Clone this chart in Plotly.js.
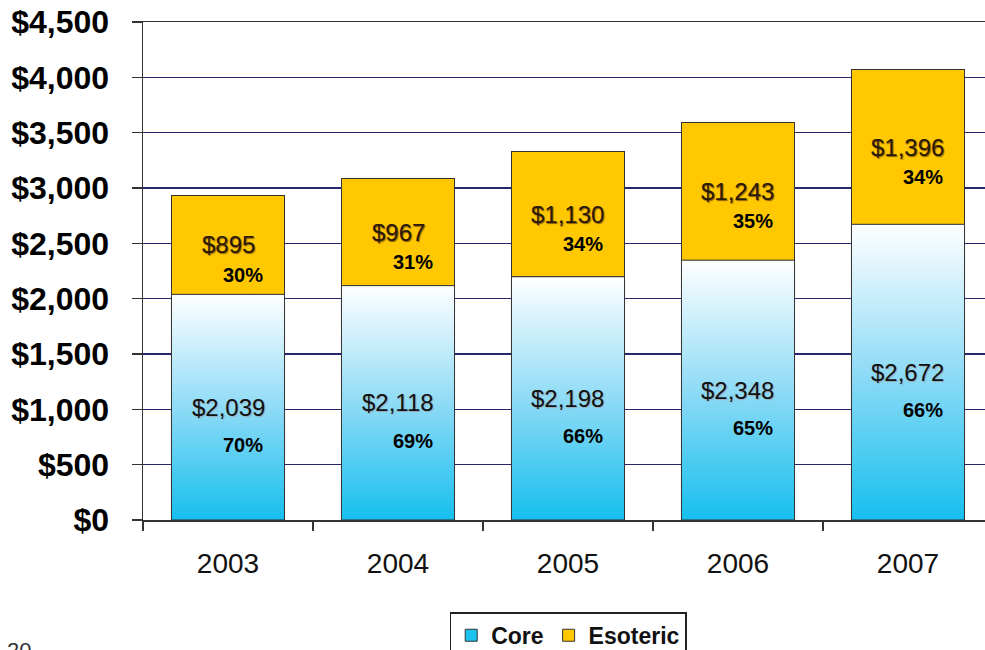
<!DOCTYPE html>
<html>
<head>
<meta charset="utf-8">
<script src="https://cdn.plot.ly/plotly-3.0.1.min.js"></script>
<style>html,body{margin:0;padding:0;background:#fff;}#chart{width:985px;height:650px;}</style>
</head>
<body>
<div id="chart"></div>
<script>
const years = ['2003', '2004', '2005', '2006', '2007'];
const core = [2039, 2118, 2198, 2348, 2672];
const esoteric = [895, 967, 1130, 1243, 1396];
const corePct = ['70%', '69%', '66%', '65%', '66%'];
const esotericPct = ['30%', '31%', '34%', '35%', '34%'];
const yTickVals = [0, 500, 1000, 1500, 2000, 2500, 3000, 3500, 4000, 4500];
const slideNumber = '20';

const FONT = 'Liberation Sans, Arial, sans-serif';
const BAR_W = 0.665;
const money = v => '$' + v.toLocaleString('en-US');
const pos = years.map((_, i) => i);

const traces = [
  {
    type: 'bar', name: 'Core', x: pos, y: core, width: BAR_W,
    marker: {color: '#1CC2EE', line: {color: '#333', width: 1}},
    hoverinfo: 'skip'
  },
  {
    type: 'bar', name: 'Esoteric', x: pos, y: esoteric, width: BAR_W,
    marker: {color: '#FFC800', line: {color: '#333', width: 1}},
    hoverinfo: 'skip'
  }
];

// gradient overlay for core bars (white at top, cyan at bottom)
pos.forEach((p, i) => {
  const h = BAR_W / 2;
  traces.push({
    type: 'scatter', mode: 'lines', showlegend: false, hoverinfo: 'skip',
    x: [p - h, p + h, p + h, p - h, p - h],
    y: [0, 0, core[i], core[i], 0],
    fill: 'toself',
    fillgradient: {type: 'vertical', start: 0, stop: core[i],
      colorscale: [[0, '#16BFEE'], [0.5, '#8FDBF6'], [1, '#FFFFFF']]},
    line: {color: '#333', width: 1}
  });
});

const annotations = [];
pos.forEach((p, i) => {
  annotations.push({x: p, y: core[i] / 2, text: money(core[i]), showarrow: false,
    font: {family: FONT, size: 24, color: '#111', shadow: '1px 1px 1px #9ab'}});
  annotations.push({x: p, y: core[i] / 2, text: corePct[i], showarrow: false,
    xshift: 15, yshift: -38, font: {family: FONT, size: 20, color: '#000', weight: 'bold'}});
  annotations.push({x: p, y: core[i] + esoteric[i] / 2, text: money(esoteric[i]), showarrow: false,
    font: {family: FONT, size: 24, color: '#2a1a08', shadow: '1px 1px 1px #8a5a00'}});
  annotations.push({x: p, y: core[i] + esoteric[i] / 2, text: esotericPct[i], showarrow: false,
    xshift: 15, yshift: -30, font: {family: FONT, size: 20, color: '#000', weight: 'bold'}});
});
annotations.push({xref: 'paper', yref: 'paper', x: -0.164, y: -0.232, xanchor: 'left', yanchor: 'top',
  text: slideNumber, showarrow: false, font: {family: FONT, size: 22, color: '#333'}});

const layout = {
  width: 985, height: 650,
  margin: {l: 143, r: 0, t: 22, b: 130},
  paper_bgcolor: '#fff', plot_bgcolor: '#fff',
  barmode: 'stack',
  showlegend: true,
  xaxis: {
    range: [-0.5, 4.453], tickmode: 'array', tickvals: pos, ticktext: years,
    ticks: '', showgrid: false, zeroline: false, automargin: false,
    showline: true, mirror: true, linecolor: '#333', linewidth: 1.5,
    minor: {tick0: -0.5, dtick: 1, ticks: 'outside', ticklen: 9, tickcolor: '#333', tickwidth: 1.5, showgrid: false},
    tickfont: {family: FONT, size: 28, color: '#111'},
    ticklabelstandoff: 18
  },
  yaxis: {
    range: [0, 4500], tickmode: 'array', tickvals: yTickVals, ticktext: yTickVals.map(money),
    ticks: 'outside', ticklen: 10, tickcolor: '#333', tickwidth: 1.5, automargin: false,
    showgrid: true, gridcolor: '#26266e', gridwidth: 1.5,
    showline: true, linecolor: '#333', linewidth: 1.5, zeroline: false,
    tickfont: {family: FONT, size: 32, color: '#000', weight: 'bold'},
    ticklabelstandoff: 16
  },
  legend: {
    orientation: 'h', xref: 'paper', x: 0.505, xanchor: 'center',
    yref: 'container', y: 0.058, yanchor: 'top',
    bordercolor: '#222', borderwidth: 1.5, bgcolor: '#fff', traceorder: 'normal',
    font: {family: FONT, size: 23, color: '#111', weight: 'bold'}
  },
  annotations: annotations
};

Plotly.newPlot('chart', traces, layout, {displayModeBar: false, staticPlot: true});
</script>
</body>
</html>
